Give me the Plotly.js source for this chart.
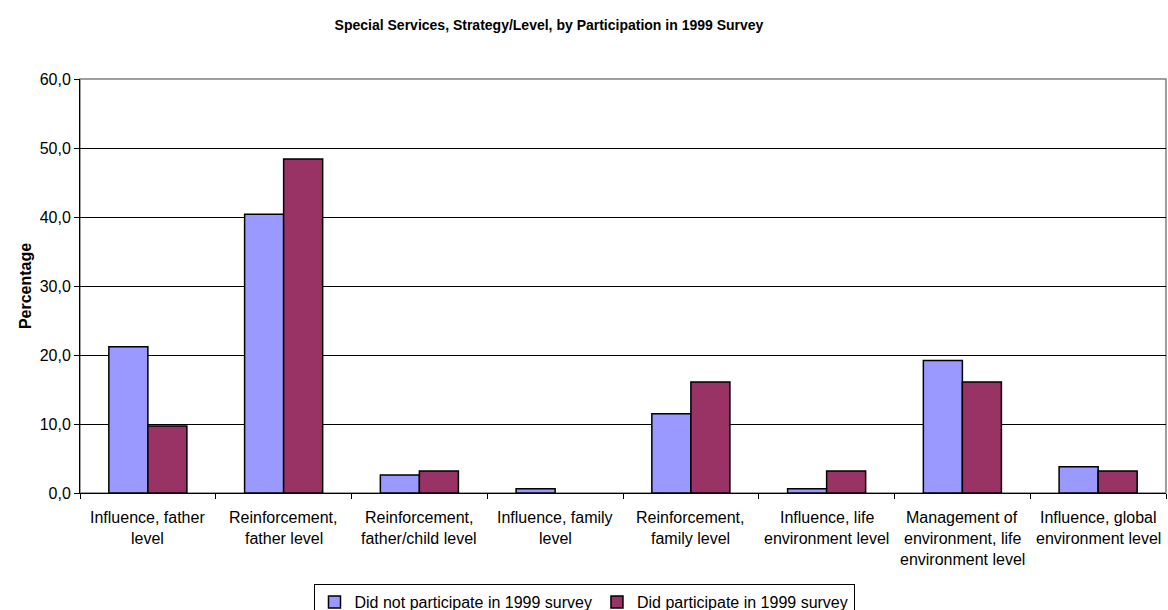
<!DOCTYPE html>
<html>
<head>
<meta charset="utf-8">
<script src="https://cdn.plot.ly/plotly-3.0.1.min.js"></script>
<style>
  html, body { margin: 0; padding: 0; background: #ffffff; }
  #chart { width: 1168px; height: 610px; }
</style>
</head>
<body>
<div id="chart"></div>
<script>
// Strategy / level categories (each line of a label is a separate entry)
const categories = [
  ["Influence, father", "level"],
  ["Reinforcement,", "father level"],
  ["Reinforcement,", "father/child level"],
  ["Influence, family", "level"],
  ["Reinforcement,", "family level"],
  ["Influence, life", "environment level"],
  ["Management of", "environment, life", "environment level"],
  ["Influence, global", "environment level"]
];
const categoryKeys = categories.map(c => c.join(" "));

// Percentages per group
const didNotParticipate = [21.2, 40.4, 2.6, 0.6, 11.5, 0.6, 19.2, 3.8];
const didParticipate    = [9.7, 48.4, 3.2, 0.0, 16.1, 3.2, 16.1, 3.2];

const seriesNames = ["Did not participate in 1999 survey", "Did participate in 1999 survey"];
const yTicks = [0, 10, 20, 30, 40, 50, 60];

const FONT = "Liberation Sans, Arial, sans-serif";

// Empty bars get no outline
const outlineWidths = vals => vals.map(v => (v > 0 ? 1.5 : 0));

const traces = [
  {
    type: "bar",
    name: seriesNames[0],
    x: categoryKeys,
    y: didNotParticipate,
    marker: { color: "#9999FF", line: { color: "#000000", width: outlineWidths(didNotParticipate) } },
    hoverinfo: "skip"
  },
  {
    type: "bar",
    name: seriesNames[1],
    x: categoryKeys,
    y: didParticipate,
    marker: { color: "#993366", line: { color: "#000000", width: outlineWidths(didParticipate) } },
    hoverinfo: "skip"
  }
];

// Multi-line category labels under the axis
const labelAnnotations = [];
categories.forEach((lines, ci) => {
  lines.forEach((line, li) => {
    labelAnnotations.push({
      x: categoryKeys[ci], xref: "x",
      y: 0, yref: "paper",
      yanchor: "middle", xanchor: "center",
      yshift: -(24 + 21 * li),
      text: line, showarrow: false,
      font: { family: FONT, size: 16, color: "#000000" }
    });
  });
});

const layout = {
  width: 1168,
  height: 610,
  paper_bgcolor: "#ffffff",
  plot_bgcolor: "#ffffff",
  margin: { l: 80, r: 2, t: 79, b: 117 },
  font: { family: FONT, size: 16, color: "#000000" },
  separators: ", ",
  title: {
    text: "<b>Special Services, Strategy/Level, by Participation in 1999 Survey</b>",
    font: { family: FONT, size: 14, color: "#000000" },
    x: 549 / 1168, xanchor: "center", xref: "container",
    y: 1 - 25 / 610, yanchor: "middle", yref: "container"
  },
  barmode: "group",
  bargap: 0.425,
  bargroupgap: 0,
  xaxis: {
    type: "category",
    showticklabels: false,
    ticks: "outside",
    tickson: "boundaries",
    ticklen: 5,
    tickcolor: "#000000",
    showline: true,
    linecolor: "#000000",
    linewidth: 1,
    showgrid: false,
    zeroline: false,
    fixedrange: true
  },
  yaxis: {
    range: [0, 60],
    tickvals: yTicks,
    tickformat: ".1f",
    ticks: "outside",
    ticklen: 5,
    tickcolor: "#000000",
    showline: true,
    linecolor: "#000000",
    linewidth: 1,
    showgrid: true,
    gridcolor: "#000000",
    gridwidth: 1,
    zeroline: false,
    tickfont: { family: FONT, size: 16, color: "#000000" },
    title: {
      text: "<b>Percentage</b>",
      font: { family: FONT, size: 16, color: "#000000" },
      standoff: 4
    },
    fixedrange: true
  },
  showlegend: true,
  legend: {
    orientation: "h",
    xref: "container", yref: "container",
    x: 584 / 1168, xanchor: "center",
    y: 1 - 584 / 610, yanchor: "top",
    bgcolor: "#ffffff",
    bordercolor: "#000000",
    borderwidth: 1,
    font: { family: FONT, size: 16, color: "#000000" },
    itemwidth: 30,
    tracegroupgap: 0
  },
  shapes: [
    {
      type: "rect", xref: "paper", yref: "paper",
      x0: 0, x1: 1, y0: 0, y1: 1,
      line: { color: "#808080", width: 1.5 },
      fillcolor: "rgba(0,0,0,0)",
      layer: "below"
    }
  ],
  annotations: labelAnnotations
};

Plotly.newPlot("chart", traces, layout, { staticPlot: true, displayModeBar: false });
</script>
</body>
</html>
